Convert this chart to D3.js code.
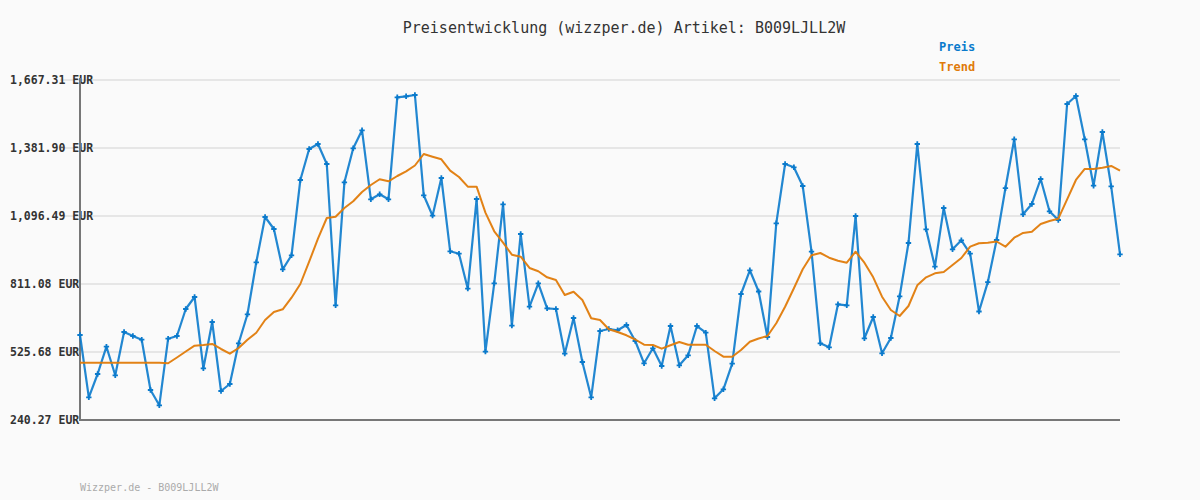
<!DOCTYPE html>
<html>
<head>
<meta charset="utf-8">
<script src="https://cdn.jsdelivr.net/npm/d3@7"></script>
<style>
  html, body { margin: 0; padding: 0; background: #fafafa; }
  svg { display: block; }
</style>
</head>
<body>
<svg id="chart" width="1200" height="500"></svg>
<script>
// ---- data ----
const titleText = "Preisentwicklung (wizzper.de) Artikel: B009LJLL2W";
const footerText = "Wizzper.de - B009LJLL2W";
const seriesNames = ["Preis", "Trend"];
const yTicks = [240.27, 525.68, 811.08, 1096.49, 1381.90, 1667.31];

const preis = [
  597.0, 335.6, 433.3, 547.9, 427.9, 609.6, 592.8, 577.3, 366.2, 302.0,
  581.5, 592.8, 706.2, 756.5, 457.3, 651.6, 362.0, 391.4, 562.2, 683.9,
  902.2, 1092.3, 1042.0, 872.8, 931.6, 1247.6, 1377.7, 1398.7, 1314.8, 721.7,
  1237.9, 1380.7, 1456.2, 1166.6, 1187.6, 1166.6, 1594.7, 1598.9, 1604.4, 1183.4,
  1097.8, 1256.0, 948.4, 938.3, 791.4, 1167.9, 527.0, 814.1, 1145.6, 636.1,
  1021.0, 715.8, 814.1, 709.1, 706.2, 518.6, 668.4, 483.7, 335.6, 613.8,
  622.2, 616.8, 639.0, 571.8, 478.3, 541.2, 466.9, 634.8, 469.9, 511.9,
  634.8, 606.7, 331.4, 369.2, 476.6, 769.1, 868.6, 779.6, 588.7, 1065.9,
  1314.8, 1300.9, 1222.4, 946.7, 562.2, 545.4, 725.9, 721.7, 1096.5, 583.2,
  672.6, 520.3, 584.5, 759.5, 983.2, 1398.7, 1040.7, 883.7, 1130.1, 956.8,
  994.5, 938.3, 695.7, 818.7, 995.8, 1213.2, 1418.4, 1103.7, 1146.9, 1251.8,
  1116.3, 1079.7, 1566.6, 1600.2, 1418.4, 1223.7, 1449.1, 1221.2, 935.8
];

const trend = [
  480.8, 480.8, 480.8, 480.8, 480.8, 480.8, 480.8, 480.8, 480.8, 480.8,
  478.5, 502.6, 527.8, 552.2, 555.0, 559.3, 538.3, 518.6, 542.5, 577.3,
  606.7, 660.0, 693.6, 704.9, 753.6, 811.1, 904.7, 1001.2, 1088.1, 1093.6,
  1130.1, 1158.2, 1197.2, 1226.6, 1250.6, 1242.2, 1264.4, 1284.1, 1308.5, 1356.7,
  1345.4, 1334.5, 1286.7, 1260.2, 1219.5, 1219.5, 1110.4, 1032.3, 984.5, 934.1,
  925.7, 878.3, 864.4, 839.2, 827.9, 764.9, 778.8, 744.0, 667.2, 660.0,
  621.0, 609.6, 595.8, 578.1, 556.3, 555.0, 539.6, 553.8, 567.7, 556.3,
  556.3, 556.3, 529.9, 506.0, 506.0, 534.1, 568.9, 582.4, 592.8, 646.2,
  715.8, 793.1, 872.8, 931.6, 941.2, 921.5, 908.9, 900.5, 946.7, 900.5,
  839.2, 757.8, 702.0, 676.8, 718.8, 805.7, 839.2, 856.0, 861.5, 890.9,
  920.2, 967.7, 981.9, 984.5, 989.5, 967.7, 1005.4, 1025.2, 1030.6, 1062.9,
  1075.5, 1085.2, 1166.6, 1247.6, 1293.8, 1293.8, 1299.3, 1306.4, 1286.7
];

const days = d3.range(preis.length);

// ---- layout ----
const colors = { Preis: "#0a7acc", Trend: "#e07b0a" };
const svg = d3.select("#chart");
const plotLeft = 80, plotRight = 1120, plotTop = 80, plotBottom = 420;

svg.append("rect").attr("width", 1200).attr("height", 500).attr("fill", "#fafafa");

const x = d3.scaleLinear().domain([0, days.length - 1]).range([plotLeft, plotRight]);
const y = d3.scaleLinear().domain([yTicks[0], yTicks[yTicks.length - 1]]).range([plotBottom, plotTop]);

// grid lines
svg.append("g")
  .selectAll("line")
  .data(yTicks.slice(1))
  .join("line")
  .attr("x1", 60).attr("x2", plotRight)
  .attr("y1", d => y(d)).attr("y2", d => y(d))
  .attr("stroke", "#e6e6e6").attr("stroke-width", 2);

// y labels
const fmt = d3.format(",.2f");
svg.append("g")
  .selectAll("text")
  .data(yTicks)
  .join("text")
  .attr("x", 10)
  .attr("y", d => y(d) + 4)
  .attr("font-family", "DejaVu Sans Mono, monospace")
  .attr("font-size", "11.5px")
  .attr("font-weight", "bold")
  .attr("fill", "#333")
  .text(d => fmt(d) + " EUR");

// axes lines
svg.append("line").attr("x1", plotLeft).attr("x2", plotLeft).attr("y1", plotTop - 2).attr("y2", plotBottom + 1)
  .attr("stroke", "#777").attr("stroke-width", 2);
svg.append("line").attr("x1", plotLeft - 1).attr("x2", plotRight).attr("y1", plotBottom).attr("y2", plotBottom)
  .attr("stroke", "#777").attr("stroke-width", 2);

// price line
const line = d3.line().x((d, i) => x(days[i])).y(d => y(d));
svg.append("path").datum(preis)
  .attr("d", line)
  .attr("fill", "none")
  .attr("stroke", colors.Preis)
  .attr("stroke-width", 2.2)
  .attr("stroke-linejoin", "round")
  .attr("opacity", 0.9);

svg.append("g")
  .selectAll("path")
  .data(preis)
  .join("path")
  .attr("transform", (d, i) => `translate(${x(days[i])},${y(d)})`)
  .attr("d", d3.symbol(d3.symbolCross, 16))
  .attr("fill", colors.Preis);

// trend line
svg.append("path").datum(trend)
  .attr("d", line)
  .attr("fill", "none")
  .attr("stroke", colors.Trend)
  .attr("stroke-width", 2)
  .attr("stroke-linejoin", "round")
  .attr("opacity", 0.95);

// title
svg.append("text")
  .attr("x", 624).attr("y", 33)
  .attr("text-anchor", "middle")
  .attr("font-family", "DejaVu Sans Mono, monospace")
  .attr("font-size", "15px")
  .attr("fill", "#333")
  .text(titleText);

// legend
svg.append("g")
  .selectAll("text")
  .data(seriesNames)
  .join("text")
  .attr("x", 939)
  .attr("y", (d, i) => 51 + i * 20)
  .attr("font-family", "DejaVu Sans Mono, monospace")
  .attr("font-size", "12px")
  .attr("font-weight", "bold")
  .attr("fill", d => colors[d])
  .text(d => d);

// footer
svg.append("text")
  .attr("x", 80).attr("y", 491)
  .attr("font-family", "DejaVu Sans Mono, monospace")
  .attr("font-size", "10px")
  .attr("fill", "#aaa")
  .text(footerText);
</script>
</body>
</html>
